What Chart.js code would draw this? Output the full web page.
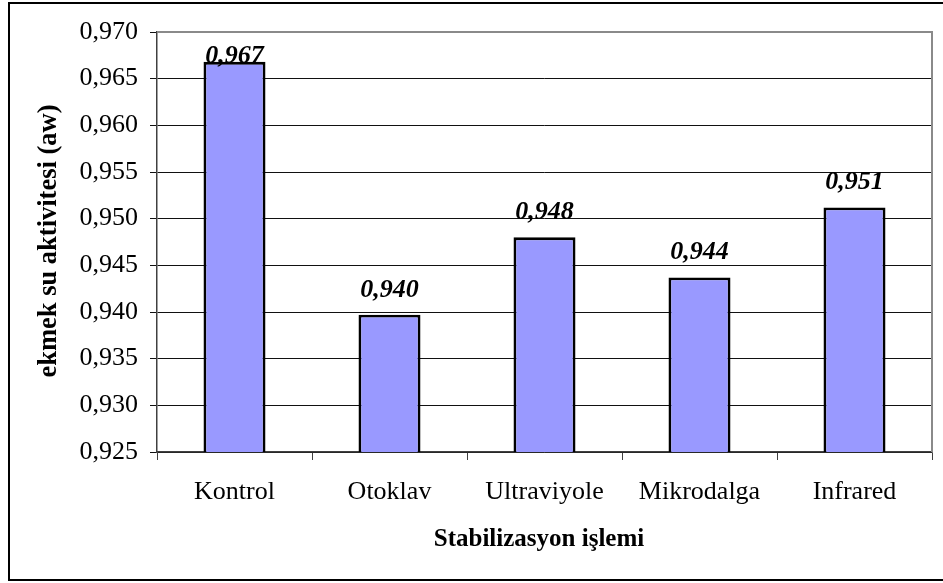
<!DOCTYPE html>
<html>
<head>
<meta charset="utf-8">
<script src="https://cdn.jsdelivr.net/npm/chart.js@4.4.1/dist/chart.umd.min.js"></script>
<style>
html,body{margin:0;padding:0;background:#fff;}
#wrap{width:943px;height:583px;position:relative;}
</style>
</head>
<body>
<div id="wrap"><canvas id="c" width="943" height="583"></canvas></div>
<script>
const categories = ["Kontrol", "Otoklav", "Ultraviyole", "Mikrodalga", "Infrared"];
const waterActivity = [0.9668, 0.9397, 0.9480, 0.9437, 0.9512];
const valueLabels = ["0,967", "0,940", "0,948", "0,944", "0,951"];
const yTitle = "ekmek su aktivitesi (aw)";
const xTitle = "Stabilizasyon işlemi";
const yMin = 0.925, yMax = 0.970, yStep = 0.005;

const FONT = "'Liberation Serif', 'Times New Roman', serif";

const decor = {
  id: 'decor',
  afterDatasetsDraw(chart) {
    const ctx = chart.ctx, a = chart.chartArea;
    ctx.save();
    ctx.strokeStyle = '#8a8a8a';
    ctx.lineWidth = 2;
    ctx.beginPath();
    ctx.moveTo(a.left, a.top);
    ctx.lineTo(a.right, a.top);
    ctx.lineTo(a.right, a.bottom);
    ctx.stroke();
    const meta = chart.getDatasetMeta(0);
    ctx.fillStyle = '#000';
    ctx.font = "italic bold 26px " + FONT;
    ctx.textAlign = 'center';
    ctx.textBaseline = 'alphabetic';
    meta.data.forEach((bar, i) => {
      let base = Math.max(bar.y - 18, a.top + 31);
      ctx.fillText(valueLabels[i], bar.x, base);
    });
    ctx.restore();
  },
  afterDraw(chart) {
    const ctx = chart.ctx, a = chart.chartArea;
    ctx.save();
    ctx.fillStyle = '#000';
    ctx.textAlign = 'center';
    ctx.textBaseline = 'middle';
    ctx.font = "bold 25px " + FONT;
    ctx.fillText(xTitle, 539, 540);
    ctx.font = "bold 26.5px " + FONT;
    ctx.translate(49, 241);
    ctx.rotate(-Math.PI / 2);
    ctx.fillText(yTitle, 0, 0);
    ctx.restore();
    ctx.save();
    ctx.strokeStyle = '#000';
    ctx.lineWidth = 2;
    ctx.strokeRect(9, 3, 960, 577);
    ctx.restore();
  }
};

new Chart(document.getElementById('c'), {
  type: 'bar',
  data: {
    labels: categories,
    datasets: [{
      data: waterActivity,
      backgroundColor: '#9999FF',
      borderColor: '#000',
      borderWidth: 2.8,
      borderSkipped: false,
      categoryPercentage: 1.0,
      barPercentage: 0.4
    }]
  },
  options: {
    responsive: false,
    animation: false,
    events: [],
    layout: { padding: { left: 0, top: 32, right: 11, bottom: 0 } },
    plugins: { legend: { display: false }, tooltip: { enabled: false }, title: { display: false } },
    scales: {
      x: {
        grid: { offset: true, drawOnChartArea: false, drawTicks: true, tickLength: 8, color: '#404040', lineWidth: 1 },
        border: { display: true, color: '#404040', width: 1.5 },
        ticks: { color: '#000', font: { family: FONT, size: 26 }, padding: 17, maxRotation: 0, autoSkip: false },
        afterFit(s) { s.height = 131; }
      },
      y: {
        min: yMin, max: yMax,
        grid: { color: '#111', lineWidth: 1, tickLength: 7, drawTicks: true },
        border: { display: true, color: '#404040', width: 1.5 },
        ticks: {
          stepSize: yStep, color: '#000', padding: 12,
          font: { family: FONT, size: 26 },
          callback: (v) => v.toFixed(3).replace('.', ',')
        },
        afterFit(s) { s.width = 157; }
      }
    }
  },
  plugins: [decor]
});
</script>
</body>
</html>
